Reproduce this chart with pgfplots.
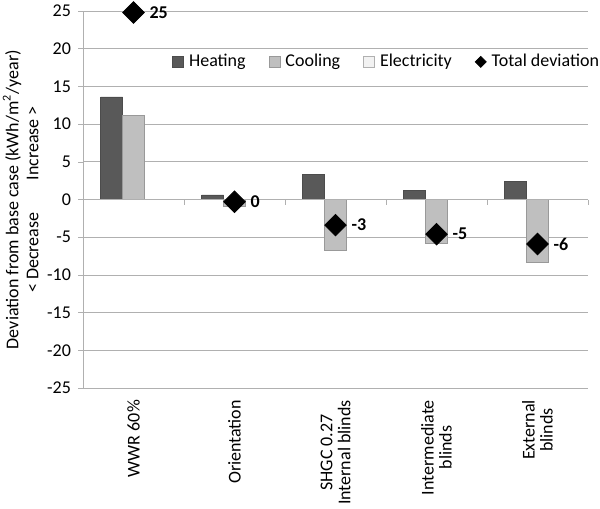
\documentclass[border=0pt]{standalone}
\usepackage{fontspec}
\setmainfont{Carlito}
\usepackage{pgfplots}
\pgfplotsset{compat=1.18}
\definecolor{heat}{HTML}{595959}
\definecolor{cool}{HTML}{BFBFBF}
\definecolor{elec}{HTML}{F2F2F2}
\definecolor{gridc}{HTML}{B0B0B0}
\begin{document}
\begin{tikzpicture}[font=\fontsize{9}{10}\selectfont]
\begin{axis}[
  scale only axis, width=252.5pt, height=188.5pt,
  xmin=-0.5, xmax=4.5, ymin=-25, ymax=25,
  clip=false,
  axis lines*=left,
  axis line style={gridc,-},
  x axis line style={draw=none},
  ytick={-25,-20,...,25},
  xtick={0,1,2,3,4},
  xticklabels={WWR 60\%, Orientation, {SHGC 0.27\\Internal blinds}, {Intermediate\\blinds}, {External\\blinds}},
  xticklabel style={rotate=90, anchor=east, align=center, font=\fontsize{9}{9}\selectfont},
  major x tick style={draw=none},
  ytick style={gridc},
  tick align=outside,
  major tick length=2.5pt,
  ymajorgrids, grid style={gridc},
  /pgf/number format/assume math mode=true,
  yticklabel style={font=\fontsize{9}{10}\selectfont},
  ylabel={Deviation from base case (kWh/m\textsuperscript{2}/year)\\{< Decrease}\hspace{16pt}{Increase >}},
  ylabel style={align=center, font=\fontsize{9}{10}\selectfont},
  ylabel shift=-2.5pt,
  legend columns=4,
  legend style={at={(0.176,0.865)}, anchor=west, draw=none, fill=none, inner sep=0pt,
    nodes={inner sep=0pt, font=\fontsize{9}{10}\selectfont},
    /tikz/every odd column/.append style={column sep=2.5pt},
    /tikz/every even column/.append style={column sep=11.5pt}},
]
\addlegendimage{legend image code/.code={\draw[fill=heat, draw=heat!85!black] (0pt,-2.75pt) rectangle (5.5pt,2.75pt);}}
\addlegendimage{legend image code/.code={\draw[fill=cool, draw=cool!80!black] (0pt,-2.75pt) rectangle (5.5pt,2.75pt);}}
\addlegendimage{legend image code/.code={\draw[fill=elec, draw=gridc] (0pt,-2.75pt) rectangle (5.5pt,2.75pt);}}
\addlegendimage{legend image code/.code={\fill[black] (2.75pt,2.75pt) -- (5.5pt,0pt) -- (2.75pt,-2.75pt) -- (0pt,0pt) -- cycle;}}
\legend{Heating, Cooling, Electricity, Total deviation}

\addplot[ybar, forget plot, bar width=11pt, bar shift=-11pt, fill=heat, draw=heat!85!black]
  coordinates {(0,13.6) (1,0.6) (2,3.3) (3,1.15) (4,2.35)};
\addplot[ybar, forget plot, bar width=11pt, bar shift=0pt, fill=cool, draw=cool!80!black]
  coordinates {(0,11.2) (1,-0.9) (2,-6.7) (3,-5.8) (4,-8.3)};
\addplot[ybar, forget plot, bar width=11pt, bar shift=11pt, fill=elec, draw=none]
  coordinates {(0,0) (1,0) (2,0) (3,0) (4,0)};

\draw[gridc] (axis cs:-0.5,0) -- (axis cs:4.5,0);
\pgfplotsinvokeforeach{0.5,1.5,2.5,3.5,4.5}{\draw[gridc] (axis cs:#1,0) -- ([yshift=-2.5pt]axis cs:#1,0);}

\addplot[forget plot, only marks, mark=square*, mark size=3.8pt,
  mark options={rotate=45, fill=black, draw=black},
  nodes near coords, point meta=explicit symbolic,
  nodes near coords style={anchor=west, xshift=4.5pt, yshift=0pt, font=\bfseries\fontsize{9}{10}\selectfont, text=black}]
  table[meta=lab] {
x y lab
0 24.8 25
1 -0.3 0
2 -3.4 -3
3 -4.6 -5
4 -5.9 -6
};
\end{axis}
\pgfresetboundingbox
\path[use as bounding box] ([xshift=-41.5pt,yshift=-60pt]current axis.south west) rectangle ([xshift=6pt,yshift=5.5pt]current axis.north east);
\end{tikzpicture}
\end{document}
